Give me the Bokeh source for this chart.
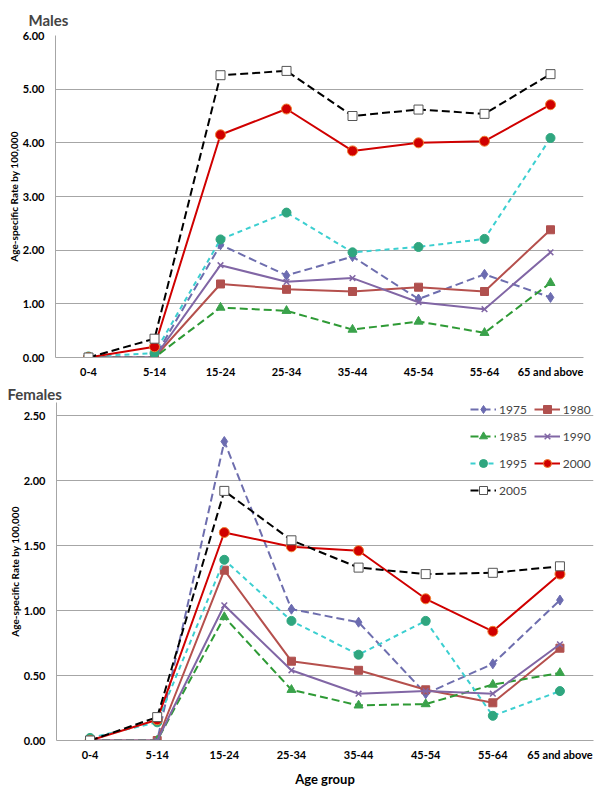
from bokeh.plotting import figure
from bokeh.models import Legend, LegendItem, NumeralTickFormatter, SingleIntervalTicker
from bokeh.embed import file_html
from bokeh.resources import INLINE

ages = ["0-4", "5-14", "15-24", "25-34", "35-44", "45-54", "55-64", "65 and above"]
years = ["1975", "1980", "1985", "1990", "1995", "2000", "2005"]

m1975 = [0, 0, 2.10, 1.53, 1.88, 1.09, 1.55, 1.12]
m1980 = [0, 0, 1.37, 1.27, 1.23, 1.31, 1.23, 2.38]
m1985 = [0, 0, 0.93, 0.87, 0.52, 0.67, 0.46, 1.39]
m1990 = [0, 0, 1.72, 1.41, 1.48, 1.03, 0.90, 1.96]
m1995 = [0.02, 0.08, 2.20, 2.70, 1.96, 2.06, 2.21, 4.09]
m2000 = [0, 0.20, 4.15, 4.63, 3.85, 4.00, 4.03, 4.71]
m2005 = [0, 0.35, 5.26, 5.34, 4.50, 4.62, 4.54, 5.28]

f1975 = [0, 0, 2.30, 1.01, 0.91, 0.36, 0.59, 1.08]
f1980 = [0, 0, 1.31, 0.61, 0.54, 0.39, 0.29, 0.71]
f1985 = [0, 0, 0.95, 0.39, 0.27, 0.28, 0.43, 0.52]
f1990 = [0, 0, 1.04, 0.54, 0.36, 0.38, 0.36, 0.74]
f1995 = [0.02, 0.14, 1.39, 0.92, 0.66, 0.92, 0.19, 0.38]
f2000 = [0, 0.16, 1.60, 1.49, 1.46, 1.09, 0.84, 1.28]
f2005 = [0, 0.18, 1.92, 1.54, 1.33, 1.28, 1.29, 1.34]

males = [m1975, m1980, m1985, m1990, m1995, m2000, m2005]
females = [f1975, f1980, f1985, f1990, f1995, f2000, f2005]

FONT = "Lato"
styles = [
    dict(line="#6E6EAE", dash="8 4", marker="diamond", fill="#6B6BB0", edge="#6B6BB0", size=10),
    dict(line="#B5504D", dash="solid", marker="square", fill="#B0504E", edge="#B0504E", size=8),
    dict(line="#2E9A35", dash="8 4", marker="triangle", fill="#3AA24B", edge="#3AA24B", size=9),
    dict(line="#8166A5", dash="solid", marker="x", fill="#8166A5", edge="#8166A5", size=8),
    dict(line="#3CCFD0", dash="5 4", marker="circle", fill="#2FA67F", edge="#2FA67F", size=9),
    dict(line="#D00000", dash="solid", marker="circle", fill="#D00000", edge="#F08030", size=10),
    dict(line="#000000", dash="8 4", marker="square", fill="#FFFFFF", edge="#555555", size=9),
]


def make_fig(title, data, yrange, tick, height, mb_left, mb_right, mb_top, mb_bottom,
             title_offset, title_standoff, xlabel=None, legend=False):
    p = figure(x_range=ages, y_range=yrange, width=600, height=height,
               output_backend="svg", toolbar_location=None,
               min_border_left=mb_left, min_border_right=mb_right,
               min_border_top=mb_top, min_border_bottom=mb_bottom)
    p.outline_line_color = None
    p.title.text = title
    p.title.text_font = FONT
    p.title.text_font_size = "15px"
    p.title.text_font_style = "bold"
    p.title.align = "left"
    p.title.offset = title_offset
    p.title.standoff = title_standoff
    p.xgrid.grid_line_color = None
    p.ygrid.grid_line_color = "#A6A6A6"
    p.ygrid.grid_line_width = 1
    p.yaxis.ticker = SingleIntervalTicker(interval=tick)
    p.yaxis.formatter = NumeralTickFormatter(format="0.00")
    p.yaxis.axis_label = "Age-specific Rate by 100,000"
    for ax in (p.xaxis, p.yaxis):
        ax.axis_line_color = "#A6A6A6"
        ax.major_tick_line_color = None
        ax.minor_tick_line_color = None
        ax.major_label_text_font = FONT
        ax.major_label_text_font_style = "bold"
        ax.major_label_text_font_size = "11px"
        ax.major_label_text_color = "#000000"
        ax.axis_label_text_font = FONT
        ax.axis_label_text_font_style = "bold"
        ax.axis_label_text_color = "#000000"
    p.yaxis.axis_label_text_font_size = "10px"
    p.yaxis.major_label_standoff = 5
    p.yaxis.axis_label_standoff = 0
    p.xaxis.major_label_standoff = 1
    if xlabel:
        p.xaxis.axis_label = xlabel
        p.xaxis.axis_label_text_font_size = "13px"
        p.xaxis.axis_label_standoff = 7
    items = []
    for yr, vals, st in zip(years, data, styles):
        l = p.line(ages, vals, line_color=st["line"], line_width=2, line_dash=st["dash"])
        if st["marker"] == "x":
            s = p.scatter(ages, vals, marker="x", size=st["size"], line_color=st["edge"], line_width=1.5)
        else:
            s = p.scatter(ages, vals, marker=st["marker"], size=st["size"], fill_color=st["fill"],
                          line_color=st["edge"], line_width=1)
        items.append(LegendItem(label=yr, renderers=[l, s]))
    if legend:
        lg = Legend(items=items, location=(414, 240), orientation="horizontal", ncols=2,
                    border_line_color=None, background_fill_alpha=0,
                    glyph_width=26, glyph_height=20, label_height=20,
                    label_text_font=FONT, label_text_font_size="12px",
                    label_standoff=3, spacing=7, padding=0, margin=0)
        p.add_layout(lg, "center")
    return p


top = make_fig("Males", males, (0, 6), 1, 380, 55, 17, 35, 23, -27, 14)
bottom = make_fig("Females", females, (0, 2.6), 0.5, 412, 56, 7, 22, 52, -49, 0,
                  xlabel="Age group", legend=True)

open("out.html", "w").write(file_html([top, bottom], INLINE))
